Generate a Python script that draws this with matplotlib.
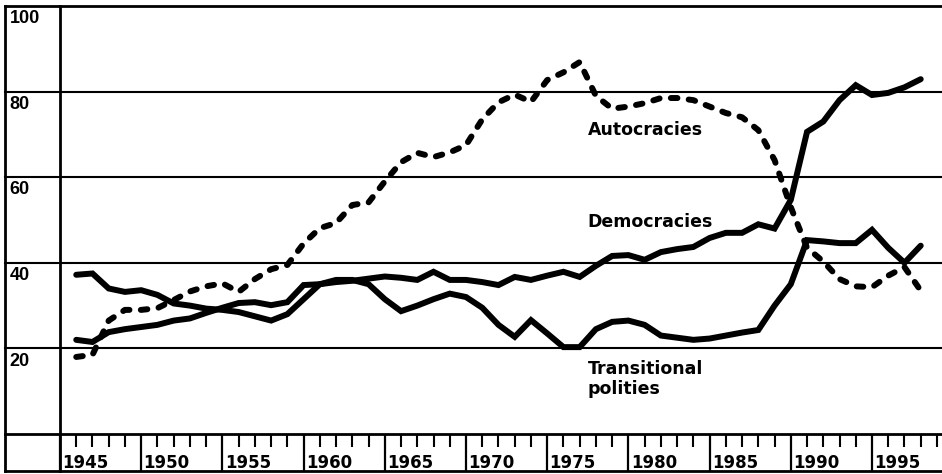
import matplotlib
matplotlib.use("Agg")
import matplotlib.pyplot as plt
import numpy as np

# ---------------- data ----------------
years = list(range(1946, 1999))

autocracies = [18, 18.5, 26.5, 29, 29, 29.4, 31.3, 33.3, 34.5, 35.2,
               33.2, 36.2, 38.5, 39.5, 44.5, 48.1, 49.3, 53.5, 54.1, 59,
               63.5, 65.7, 64.7, 65.8, 67.5, 73.5, 77.5, 79.3, 77.6, 82.7,
               84.5, 86.9, 79, 76, 76.5, 77.3, 78.5, 78.5, 78, 76.5,
               75, 74, 71, 64, 53, 43.5, 40.3, 36.2, 34.5, 34.3,
               37, 39, 33.5]

democracies = [22, 21.5, 23.8, 24.5, 25, 25.5, 26.5, 27, 28.3, 29.5,
               30.6, 30.8, 30.1, 30.8, 34.8, 35, 35.5, 35.8, 36.3, 36.8,
               36.5, 36, 37.9, 36, 36, 35.5, 34.8, 36.7, 36, 37,
               37.9, 36.7, 39.3, 41.6, 41.8, 40.7, 42.5, 43.2, 43.7, 45.8,
               47, 47, 49, 48, 54.7, 70.6, 73, 78, 81.5, 79.2,
               79.7, 81, 82.9]

transitional = [37.2, 37.5, 34, 33.2, 33.6, 32.5, 30.5, 30, 29.3, 29,
                28.5, 27.5, 26.5, 28, 31.5, 35, 36, 36, 35, 31.5,
                28.7, 30, 31.5, 32.8, 32, 29.5, 25.5, 22.7, 26.6, 23.5,
                20.3, 20.3, 24.5, 26.2, 26.5, 25.5, 23, 22.5, 22, 22.3,
                23, 23.7, 24.3, 30, 35, 45.3, 45, 44.6, 44.6, 47.7,
                43.5, 40, 44]

y_ticks = [20, 40, 60, 80, 100]
y_tick_labels = ["20", "40", "60", "80", "100"]
label_years = [1945, 1950, 1955, 1960, 1965, 1970, 1975, 1980, 1985, 1990, 1995]
series_labels = ["Autocracies", "Democracies", "Transitional\npolities"]

# ---------------- figure ----------------
W, H = 942, 474
fig = plt.figure(figsize=(W / 100, H / 100), dpi=100)
fig.patch.set_facecolor("white")

x0_px, y0_px, ytop_px = 60, 434, 6
px_per_year = 16.24
x_right = 1945 + (W - x0_px) / px_per_year
ax = fig.add_axes([x0_px / W, (H - y0_px) / H, (W - x0_px) / W, (y0_px - ytop_px) / H])
ax.set_xlim(1945, x_right)
ax.set_ylim(0, 100)
for s in ax.spines.values():
    s.set_visible(False)
ax.set_facecolor("none")

NARROW = ["Liberation Sans Narrow", "Liberation Sans", "DejaVu Sans"]
WIDE = ["DejaVu Sans"]
ax_h_px = y0_px - ytop_px
ax_w_px = W - x0_px
left_border = (5 - x0_px) / ax_w_px      # axes x coord of outer left border
bottom_strip = (y0_px - 471) / ax_h_px   # axes y coord of the bottom border

ytr = ax.get_yaxis_transform()
xtr = ax.get_xaxis_transform()

# horizontal grid lines (extending into the label column)
for v in [0] + y_ticks:
    ax.plot([left_border, 1], [v, v], transform=ytr, color="black",
            lw=1.5 if v not in (0, 100) else 2.0, clip_on=False, zorder=1)
# bottom border
ax.plot([left_border, 1], [bottom_strip, bottom_strip], transform=ax.transAxes,
        color="black", lw=2.0, clip_on=False)
# vertical borders
ax.plot([left_border, left_border], [bottom_strip, 1], transform=ax.transAxes,
        color="black", lw=2.0, clip_on=False)
ax.plot([0, 0], [bottom_strip, 1], transform=ax.transAxes,
        color="black", lw=2.0, clip_on=False)

# y labels in left column
for v, lab in zip(y_ticks, y_tick_labels):
    ax.annotate(lab, xy=(left_border, v), xycoords=ytr, xytext=(3.5, -3),
                textcoords="offset points", ha="left", va="top",
                fontsize=13, fontweight="bold", family=NARROW)

# ruler ticks on the x axis (year boundaries)
ax.set_yticks([])
ax.set_xticks(label_years)
ax.set_xticks(list(range(1945, 2000)), minor=True)
ax.tick_params(axis="x", which="major", direction="out", length=26.5, width=1.6,
               labelbottom=False)
ax.tick_params(axis="x", which="minor", direction="out", length=9.5, width=1.5)
for yr in label_years:
    ax.text(yr + 0.15, (y0_px - 463) / ax_h_px, str(yr), transform=xtr,
            ha="left", va="center", fontsize=12, fontweight="bold", family=WIDE)

# data lines
lw = 4.3
ax.plot(years, autocracies, color="black", lw=lw, linestyle=(0, (1.1, 1.9)),
        dash_capstyle="round", solid_capstyle="round", zorder=3)
ax.plot(years, democracies, color="black", lw=lw, solid_capstyle="round",
        solid_joinstyle="miter", zorder=3)
ax.plot(years, transitional, color="black", lw=lw, solid_capstyle="round",
        solid_joinstyle="miter", zorder=3)

# series labels
for lab, yv in zip(series_labels, [71, 49.5, 12.8]):
    ax.text(1977.5, yv, lab, ha="left", va="center", fontsize=12.5,
            fontweight="bold", family=WIDE, linespacing=1.15)

fig.savefig("out.png", dpi=100, facecolor="white")
